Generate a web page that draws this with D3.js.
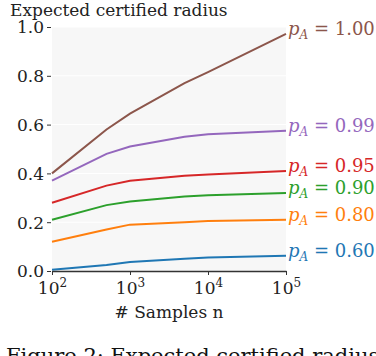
<!DOCTYPE html>
<html lang="en">
<head>
<meta charset="utf-8">
<script src="https://d3js.org/d3.v7.min.js"></script>
<style type="text/css">
body { margin: 0; background: #fff; }
svg text { font-family: "DejaVu Serif", "Liberation Serif", "Times New Roman", serif; fill: #222; }
.axis path, .axis line { stroke: #333; }
</style>
</head>
<body>
<div id="chart"></div>
<script type="text/javascript">

// sample counts and curves (one array per p_A)
var samples = [100, 500, 1000, 5000, 10000, 100000];
var pA100 = [0.40, 0.58, 0.645, 0.77, 0.815, 0.972];
var pA099 = [0.37, 0.48, 0.51, 0.55, 0.56, 0.575];
var pA095 = [0.28, 0.35, 0.37, 0.39, 0.395, 0.41];
var pA090 = [0.21, 0.27, 0.285, 0.305, 0.31, 0.32];
var pA080 = [0.12, 0.17, 0.19, 0.20, 0.205, 0.21];
var pA060 = [0.005, 0.025, 0.037, 0.05, 0.055, 0.062];
var labels = ["1.00", "0.99", "0.95", "0.90", "0.80", "0.60"];
var colors = ["#8c564b", "#9467bd", "#d62728", "#2ca02c", "#ff7f0e", "#1f77b4"];
var yTicks = [0.0, 0.2, 0.4, 0.6, 0.8, 1.0];
var xTicks = [100, 1000, 10000, 100000];

var series = [pA100, pA099, pA095, pA090, pA080, pA060];

var width = 376, height = 356;
var mLeft = 52, mRight = 286, mTop = 27, mBottom = 271;

var svg = d3.select("#chart").append("svg")
  .attr("width", width)
  .attr("height", height);

var x = d3.scaleLog().domain([100, 100000]).range([mLeft, mRight]);
var y = d3.scaleLinear().domain([0, 1]).range([mBottom, mTop]);

// background
svg.append("rect")
  .attr("x", mLeft).attr("y", mTop)
  .attr("width", mRight - mLeft).attr("height", mBottom - mTop)
  .style("fill", "#f7f7f7");

// grid
svg.selectAll("line.grid")
  .data(yTicks.slice(1))
  .enter().append("line")
  .attr("class", "grid")
  .attr("x1", mLeft).attr("x2", mRight)
  .attr("y1", function(d) { return y(d); })
  .attr("y2", function(d) { return y(d); })
  .style("stroke", "#fff")
  .style("stroke-width", 1);

// lines
var line = d3.line()
  .x(function(d, i) { return x(samples[i]); })
  .y(function(d) { return y(d); });

svg.selectAll("path.curve")
  .data(series)
  .enter().append("path")
  .attr("class", "curve")
  .attr("d", line)
  .style("fill", "none")
  .style("stroke", function(d, i) { return colors[i]; })
  .style("stroke-width", 2);

// y axis (ticks only)
var yAxis = d3.axisLeft(y).tickValues(yTicks).tickFormat(d3.format(".1f")).tickSize(4).tickPadding(3);
var gy = svg.append("g")
  .attr("class", "axis")
  .attr("transform", "translate(" + (mLeft - 1) + ",0)")
  .call(yAxis);
gy.select(".domain").remove();
gy.selectAll("text").style("font-size", "17px").attr("dy", "0.35em").style("fill", "#222");

// x axis
var xAxis = d3.axisBottom(x).tickValues(xTicks).tickFormat("").tickSize(4).tickSizeOuter(0);
var gx = svg.append("g")
  .attr("class", "axis")
  .attr("transform", "translate(0," + mBottom + ")")
  .call(xAxis);
gx.select(".domain").style("stroke-width", 1.5);

var xl = gx.selectAll(".tick").append("text")
  .attr("y", 23)
  .attr("text-anchor", "middle")
  .style("font-size", "17px")
  .style("fill", "#222");
xl.append("tspan").text("10");
xl.append("tspan")
  .attr("dy", -7)
  .style("font-size", "12px")
  .text(function(d) { return Math.round(Math.log10(d)); });

// end labels
var lab = svg.selectAll("text.lab")
  .data(series)
  .enter().append("text")
  .attr("class", "lab")
  .attr("x", mRight + 2)
  .attr("y", function(d) { return y(d[d.length - 1]) + 1; })
  .style("font-size", "18px")
  .style("fill", function(d, i) { return colors[i]; });
lab.append("tspan").style("font-style", "italic").style("fill", function(d, i) { return colors[i]; }).text("p");
lab.append("tspan").attr("dy", 4).style("font-size", "12px").style("font-style", "italic")
  .style("fill", function(d, i) { return colors[i]; }).text("A");
lab.append("tspan").attr("dy", -4).style("fill", function(d, i) { return colors[i]; })
  .text(function(d, i) { return " = " + labels[i]; });

// titles
svg.append("text")
  .attr("x", 10).attr("y", 16)
  .style("font-size", "17px")
  .text("Expected certified radius");

svg.append("text")
  .attr("x", (mLeft + mRight) / 2).attr("y", 318)
  .attr("text-anchor", "middle")
  .style("font-size", "17px")
  .text("# Samples n");

svg.append("text")
  .attr("x", 6).attr("y", 363)
  .style("font-size", "21px")
  .style("fill", "#111")
  .text("Figure 2: Expected certified radius");

</script>
</body>
</html>
